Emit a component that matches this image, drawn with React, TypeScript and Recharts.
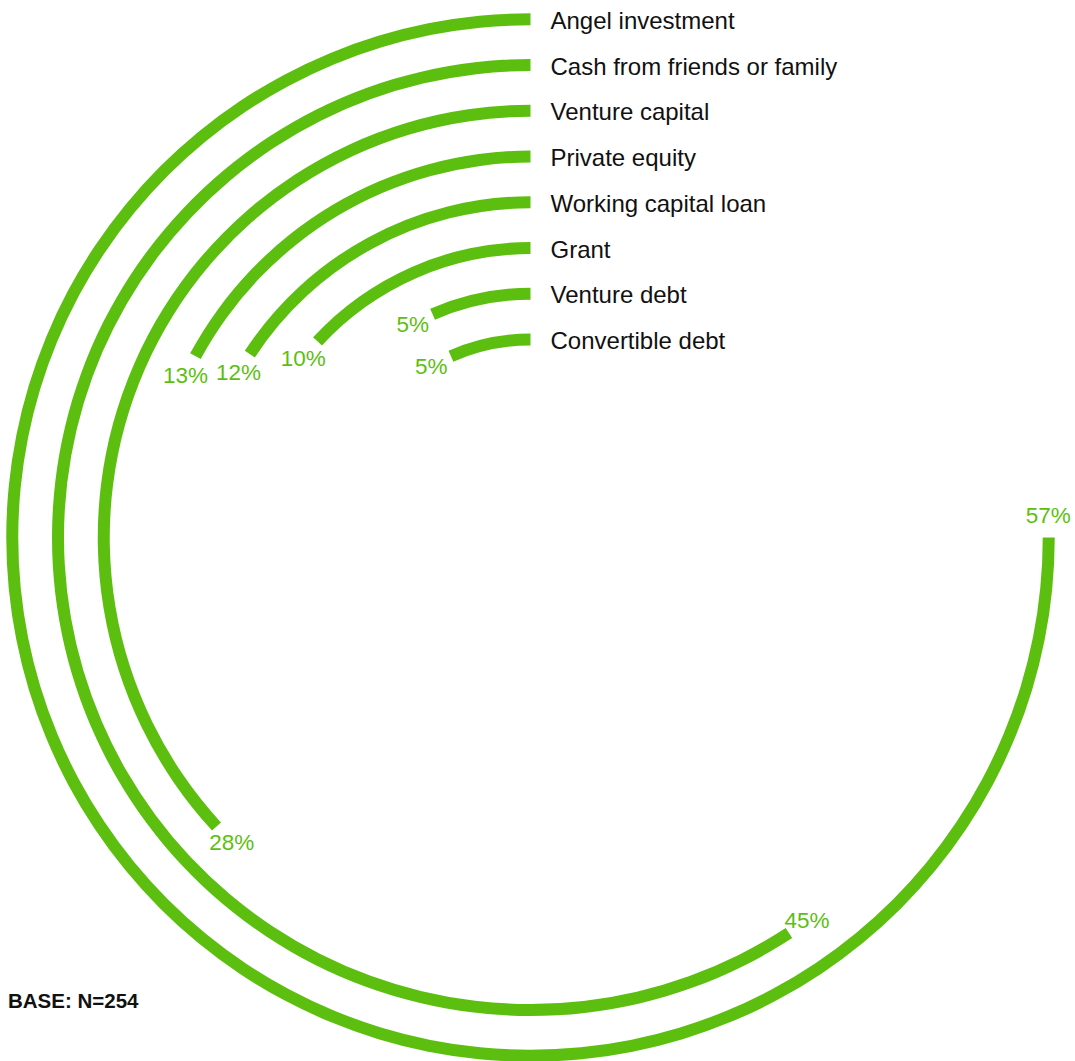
import { RadialBarChart, RadialBar, PolarAngleAxis, LabelList } from 'recharts'

// outer ring first, as read top to bottom
const sources = [
  'Angel investment',
  'Cash from friends or family',
  'Venture capital',
  'Private equity',
  'Working capital loan',
  'Grant',
  'Venture debt',
  'Convertible debt',
]
const shares = [57, 45, 28, 13, 12, 10, 5, 5]

const GREEN = '#5cbf0f'
const FONT = '"Liberation Sans", Arial, Helvetica, sans-serif'

// RadialBarChart puts the first row in the innermost band
const data = sources
  .map((name, i) => ({ name, value: shares[i] }))
  .reverse()

const RAD = Math.PI / 180

function ValueLabel(props: any) {
  const vb = props.viewBox || {}
  const { cx, cy, innerRadius, outerRadius, endAngle } = vb
  if (cx == null) return null
  const r = (innerRadius + outerRadius) / 2
  const a = endAngle + (22 / r) / RAD
  const x = cx + r * Math.cos(a * RAD)
  const y = cy - r * Math.sin(a * RAD)
  return (
    <text x={x} y={y} textAnchor="middle" dominantBaseline="central" fill={GREEN} fontSize={22.5} fontFamily={FONT}>
      {props.value}%
    </text>
  )
}

function NameLabel(props: any) {
  const vb = props.viewBox || {}
  const { cx, cy, innerRadius, outerRadius } = vb
  if (cx == null) return null
  const r = (innerRadius + outerRadius) / 2
  return (
    <text x={cx + 20} y={cy - r + 1} textAnchor="start" dominantBaseline="central" fill="#111" fontSize={24} fontFamily={FONT}>
      {props.value}
    </text>
  )
}

export default function App() {
  return (
    <div style={{ position: 'absolute', left: 0, top: 0, width: 1075, height: 1061, background: '#fff' }}>
      <RadialBarChart
        width={1075}
        height={1061}
        data={data}
        cx={530.5}
        cy={537.5}
        innerRadius={175}
        outerRadius={541}
        startAngle={90}
        endAngle={450}
        barSize={12}
        margin={{ top: 0, right: 0, bottom: 0, left: 0 }}
      >
        <PolarAngleAxis type="number" domain={[0, 76]} tick={false} axisLine={false} />
        <RadialBar dataKey="value" fill={GREEN} isAnimationActive={false}>
          <LabelList dataKey="value" content={ValueLabel} />
          <LabelList dataKey="name" content={NameLabel} />
        </RadialBar>
      </RadialBarChart>
      <div
        style={{
          position: 'absolute',
          left: 8,
          top: 989,
          fontFamily: FONT,
          fontWeight: 'bold',
          fontSize: 20.5,
          color: '#111',
          lineHeight: '24px',
        }}
      >
        BASE: N=254
      </div>
    </div>
  )
}
